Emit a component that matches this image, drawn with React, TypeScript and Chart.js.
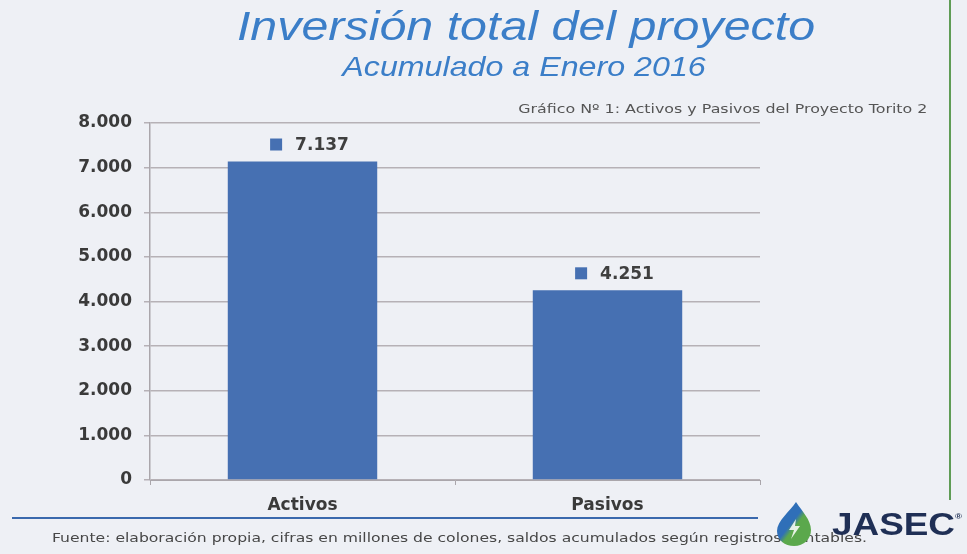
import React, { useEffect, useRef } from "react";
import { Chart, registerables } from "chart.js";

Chart.register(...registerables);

const categories = ["Activos", "Pasivos"];
const values = [7137, 4251];
const yTicks = [0, 1000, 2000, 3000, 4000, 5000, 6000, 7000, 8000];

const titleText = "Inversión total del proyecto";
const subtitleText = "Acumulado a Enero 2016";
const captionText = "Gráfico Nº 1: Activos y Pasivos del Proyecto Torito 2";
const footerText =
  "Fuente: elaboración propia, cifras en millones de colones, saldos acumulados según registros contables.";

const BAR_COLOR = "#4670b2";
const BG = "#eef0f5";

function fmt(v: number): string {
  const s = Math.round(v).toString();
  return s.replace(/\B(?=(\d{3})+(?!\d))/g, ".");
}

const labelPlugin = {
  id: "valueLabels",
  afterDatasetsDraw(chart: any) {
    const ctx = chart.ctx;
    const meta = chart.getDatasetMeta(0);
    ctx.save();
    ctx.font = "bold 17px 'DejaVu Sans'";
    ctx.textBaseline = "middle";
    ctx.textAlign = "left";
    meta.data.forEach((bar: any, i: number) => {
      const text = fmt(values[i]);
      const w = ctx.measureText(text).width;
      const sq = 12;
      const gap = 13;
      const total = sq + gap + w;
      const start = bar.x + 7 - total / 2;
      const cy = bar.y - 17;
      ctx.fillStyle = BAR_COLOR;
      ctx.fillRect(start, cy - sq / 2, sq, sq);
      ctx.fillStyle = "#3f3f3f";
      ctx.fillText(text, start + sq + gap, cy + 1);
    });
    ctx.restore();
  },
};

export default function App() {
  const ref = useRef<HTMLCanvasElement | null>(null);

  useEffect(() => {
    document.body.style.margin = "0";
    const chart = new Chart(ref.current as HTMLCanvasElement, {
      type: "bar",
      data: {
        labels: categories,
        datasets: [
          {
            data: values,
            backgroundColor: BAR_COLOR,
            borderWidth: 0,
            categoryPercentage: 1,
            barPercentage: 0.49,
          },
        ],
      },
      options: {
        responsive: false,
        animation: false,
        layout: { padding: { left: 0, right: 207, top: 123, bottom: 0 } },
        plugins: {
          legend: { display: false },
          tooltip: { enabled: false },
          title: { display: false },
        },
        scales: {
          x: {
            afterFit: (s: any) => {
              s.height = 74;
            },
            grid: {
              display: true,
              drawOnChartArea: false,
              drawTicks: true,
              tickLength: 5,
              color: "#aaa6ab",
            },
            border: { display: true, color: "#aaa6ab", width: 1 },
            ticks: {
              padding: 10,
              color: "#3a3a3a",
              font: { family: "'DejaVu Sans'", size: 17, weight: "bold" },
            },
          },
          y: {
            min: 0,
            max: 8000,
            afterFit: (s: any) => {
              s.width = 150;
            },
            afterBuildTicks: (s: any) => {
              s.ticks = yTicks.map((v) => ({ value: v }));
            },
            grid: {
              color: "#b6b1b6",
              lineWidth: 1.5,
              drawTicks: true,
              tickLength: 6,
            },
            border: { display: true, color: "#aaa6ab", width: 1.5 },
            ticks: {
              padding: 12,
              color: "#3a3a3a",
              font: { family: "'DejaVu Sans'", size: 17, weight: "bold" },
              callback: (v: any) => fmt(Number(v)),
            },
          },
        },
      },
      plugins: [labelPlugin],
    });
    return () => chart.destroy();
  }, []);

  return (
    <div
      style={{
        position: "absolute",
        left: 0,
        top: 0,
        width: 967,
        height: 554,
        background: BG,
        overflow: "hidden",
        fontFamily: "'Liberation Sans', Arial, sans-serif",
      }}
    >
      <canvas
        ref={ref}
        width={967}
        height={554}
        style={{ position: "absolute", left: 0, top: 0, width: 967, height: 554 }}
      />
      <div
        style={{
          position: "absolute",
          left: 26,
          width: 1000,
          top: 3,
          textAlign: "center",
          fontStyle: "italic",
          fontSize: 41,
          lineHeight: "46px",
          color: "#3b7ec8",
          whiteSpace: "nowrap",
          transform: "scaleX(1.18)",
          transformOrigin: "center top",
        }}
      >
        {titleText}
      </div>
      <div
        style={{
          position: "absolute",
          left: 24,
          width: 1000,
          top: 51,
          textAlign: "center",
          fontStyle: "italic",
          fontSize: 28,
          lineHeight: "32px",
          color: "#3b7ec8",
          whiteSpace: "nowrap",
          transform: "scaleX(1.15)",
          transformOrigin: "center top",
        }}
      >
        {subtitleText}
      </div>
      <div
        style={{
          position: "absolute",
          right: 40,
          top: 101,
          fontSize: 13,
          lineHeight: "15px",
          fontFamily: "'DejaVu Sans'",
          color: "#555",
          whiteSpace: "nowrap",
          transform: "scaleX(1.22)",
          transformOrigin: "right top",
        }}
      >
        {captionText}
      </div>
      <div
        style={{
          position: "absolute",
          left: 12,
          top: 517,
          width: 746,
          height: 2,
          background: "#3a69ad",
        }}
      />
      <div
        style={{
          position: "absolute",
          left: 949,
          top: 0,
          width: 2,
          height: 500,
          background: "#5f9c55",
        }}
      />
      <div
        style={{
          position: "absolute",
          left: 52,
          top: 530,
          fontSize: 13,
          lineHeight: "15px",
          fontFamily: "'DejaVu Sans'",
          color: "#474747",
          whiteSpace: "nowrap",
          transform: "scaleX(1.2)",
          transformOrigin: "left top",
        }}
      >
        {footerText}
      </div>
      <svg
        width={40}
        height={46}
        viewBox="0 0 40 46"
        style={{ position: "absolute", left: 774, top: 501 }}
      >
        <defs>
          <linearGradient id="dropG" x1="0" y1="0" x2="1" y2="1">
            <stop offset="0.45" stopColor="#2f6fb8" />
            <stop offset="0.55" stopColor="#5ba84c" />
          </linearGradient>
        </defs>
        <path
          d="M22 1 C16 10 3 20 3 30 C3 39 11 45 20 45 C30 45 37 38 37 29 C37 19 28 10 22 1 Z"
          fill="url(#dropG)"
        />
        <path d="M22 18 L15 29 L20 29 L17 38 L26 25 L21 25 Z" fill="#ffffff" opacity={0.85} />
      </svg>
      <div
        style={{
          position: "absolute",
          left: 832,
          top: 507,
          fontSize: 31,
          fontWeight: "bold",
          color: "#1f2f55",
          transform: "scaleX(1.19)",
          transformOrigin: "left top",
          whiteSpace: "nowrap",
          lineHeight: "36px",
        }}
      >
        JASEC<sup style={{ fontSize: 8, verticalAlign: "top", lineHeight: "20px" }}>®</sup>
      </div>
    </div>
  );
}
